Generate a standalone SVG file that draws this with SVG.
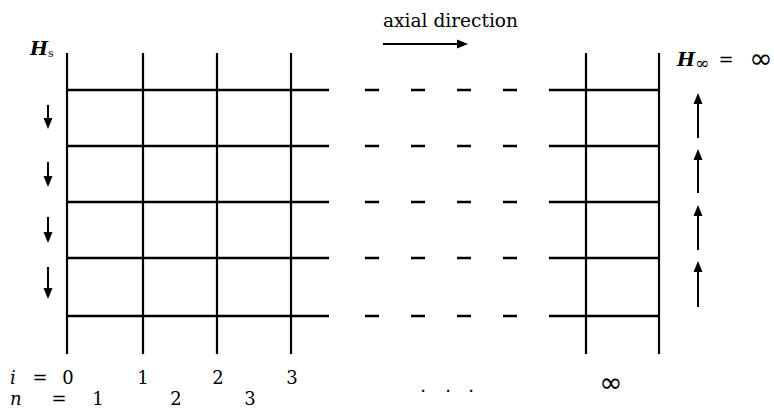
<svg xmlns="http://www.w3.org/2000/svg" width="774" height="409" viewBox="0 0 774 409">
<defs>
<style>
.ln{stroke:#000;stroke-width:2.2;fill:none}
.hl{stroke:#000;stroke-width:2.6;fill:none}
.ds{stroke:#000;stroke-width:2.6;stroke-dasharray:14 32;fill:none}
.ar{stroke:#000;stroke-width:2;fill:none}
.hd{fill:#000;stroke:none}
text{font-family:'DejaVu Serif','Liberation Serif',serif;font-size:18px;fill:#000}
.it{font-style:italic;font-weight:bold}
.iv{font-style:italic}
.inf{font-family:'DejaVu Sans',sans-serif;font-size:28px}
</style>
</defs>
<rect width="774" height="409" fill="#fff"/>
<g id="grid">
<line class="ln" x1="67" y1="53" x2="67" y2="354"/>
<line class="ln" x1="143" y1="53" x2="143" y2="354"/>
<line class="ln" x1="217" y1="53" x2="217" y2="354"/>
<line class="ln" x1="291" y1="53" x2="291" y2="354"/>
<line class="ln" x1="586" y1="53" x2="586" y2="354"/>
<line class="ln" x1="659" y1="53" x2="659" y2="354"/>
<line class="hl" x1="67" y1="90" x2="329" y2="90"/>
<line class="hl" x1="67" y1="146" x2="329" y2="146"/>
<line class="hl" x1="67" y1="202" x2="329" y2="202"/>
<line class="hl" x1="67" y1="258" x2="329" y2="258"/>
<line class="hl" x1="67" y1="316" x2="329" y2="316"/>
<line class="hl" x1="549" y1="90" x2="659" y2="90"/>
<line class="hl" x1="549" y1="146" x2="659" y2="146"/>
<line class="hl" x1="549" y1="202" x2="659" y2="202"/>
<line class="hl" x1="549" y1="258" x2="659" y2="258"/>
<line class="hl" x1="549" y1="316" x2="659" y2="316"/>
</g>
<g id="dashes">
<line class="ds" x1="365" y1="90" x2="518" y2="90"/>
<line class="ds" x1="365" y1="146" x2="518" y2="146"/>
<line class="ds" x1="365" y1="202" x2="518" y2="202"/>
<line class="ds" x1="365" y1="258" x2="518" y2="258"/>
<line class="ds" x1="365" y1="316" x2="518" y2="316"/>
</g>
<g id="connectors">
<line class="ar" x1="383" y1="44" x2="460" y2="44"/>
<path class="hd" d="M468,44 L457,39.5 L457,48.5 Z"/>
<line class="ar" x1="48" y1="105" x2="48" y2="121"/>
<path class="hd" d="M48,129 L43.5,118 L52.5,118 Z"/>
<line class="ar" x1="48" y1="162" x2="48" y2="179"/>
<path class="hd" d="M48,187 L43.5,176 L52.5,176 Z"/>
<line class="ar" x1="48" y1="217" x2="48" y2="235"/>
<path class="hd" d="M48,243 L43.5,232 L52.5,232 Z"/>
<line class="ar" x1="48" y1="267" x2="48" y2="291"/>
<path class="hd" d="M48,299 L43.5,288 L52.5,288 Z"/>
<line class="ar" x1="698" y1="138" x2="698" y2="101"/>
<path class="hd" d="M698,93 L693.5,104 L702.5,104 Z"/>
<line class="ar" x1="698" y1="193" x2="698" y2="157"/>
<path class="hd" d="M698,149 L693.5,160 L702.5,160 Z"/>
<line class="ar" x1="698" y1="250" x2="698" y2="213"/>
<path class="hd" d="M698,205 L693.5,216 L702.5,216 Z"/>
<line class="ar" x1="698" y1="307" x2="698" y2="269"/>
<path class="hd" d="M698,261 L693.5,272 L702.5,272 Z"/>
</g>
<g id="labels">
<text x="383" y="27" textLength="135" lengthAdjust="spacingAndGlyphs" font-size="17">axial direction</text>
<text x="30" y="55"><tspan class="it" font-size="19">H</tspan><tspan font-size="11" dy="2">s</tspan></text>
<text x="677" y="66"><tspan class="it" font-size="19">H</tspan><tspan font-size="17" dy="3">∞</tspan></text>
<text x="726" y="66" text-anchor="middle" font-size="24">=</text>
<text x="761" y="68" text-anchor="middle" class="inf">∞</text>
<text x="10" y="384" class="iv">i</text>
<text x="40" y="384" text-anchor="middle">=</text>
<text x="68" y="384" text-anchor="middle">0</text>
<text x="143" y="384" text-anchor="middle">1</text>
<text x="218" y="384" text-anchor="middle">2</text>
<text x="292" y="384" text-anchor="middle">3</text>
<text x="10" y="405" class="iv">n</text>
<text x="59" y="405" text-anchor="middle">=</text>
<text x="98" y="405" text-anchor="middle">1</text>
<text x="176" y="405" text-anchor="middle">2</text>
<text x="250" y="405" text-anchor="middle">3</text>
<text x="423" y="392" text-anchor="middle">.</text>
<text x="448" y="392" text-anchor="middle">.</text>
<text x="471" y="392" text-anchor="middle">.</text>
<text x="611" y="392" text-anchor="middle" class="inf">∞</text>
</g>
</svg>
